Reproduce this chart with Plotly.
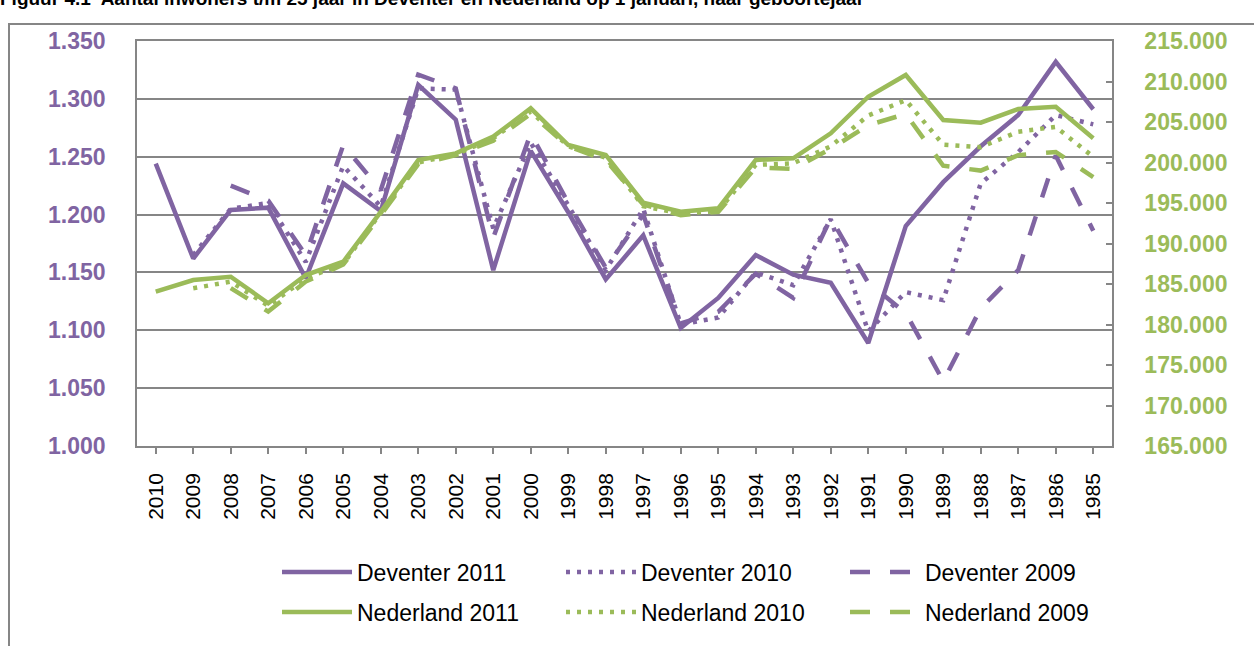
import plotly.graph_objects as go

years = ["2010", "2009", "2008", "2007", "2006", "2005", "2004", "2003", "2002", "2001",
         "2000", "1999", "1998", "1997", "1996", "1995", "1994", "1993", "1992", "1991",
         "1990", "1989", "1988", "1987", "1986", "1985"]

deventer_2011 = [1244, 1162, 1204, 1206, 1145, 1227, 1203, 1312, 1282, 1152,
                 1255, 1202, 1144, 1182, 1102, 1128, 1165, 1148, 1141, 1089,
                 1190, 1228, 1259, 1286, 1332, 1291]
deventer_2010 = [None, 1165, 1205, 1210, 1159, 1242, 1207, 1309, 1308, 1188,
                 1262, 1208, 1152, 1205, 1105, 1111, 1150, 1139, 1196, 1099,
                 1133, 1126, 1227, 1254, 1286, 1278]
deventer_2009 = [None, None, 1225, 1212, 1165, 1260, 1221, 1321, 1309, 1180,
                 1270, 1210, 1154, 1200, 1106, 1116, 1149, 1128, 1197, 1141,
                 1115, 1056, 1119, 1152, 1251, 1186]

nederland_2011 = [184050, 185490, 185900, 182620, 186110, 187750, 193900, 200300, 201130, 203190,
                  206690, 202160, 200930, 195040, 193930, 194350, 200310, 200520, 203600, 208120,
                  210800, 205250, 204910, 206600, 206890, 202990]
nederland_2010 = [None, 184470, 185300, 182300, 185700, 187500, 193800, 200000, 201000, 203000,
                  206300, 202000, 200600, 194600, 193700, 194000, 199700, 199900, 202000, 205800,
                  207700, 202200, 201900, 203800, 204400, 200700]
nederland_2009 = [None, None, 184500, 181600, 185300, 187400, 193500, 199800, 200900, 202700,
                  206000, 202000, 200300, 194800, 193500, 193900, 199400, 199200, 201700, 204600,
                  206000, 199600, 199000, 200900, 201300, 198200]

PURPLE = "#8064A2"
GREEN = "#9BBB59"
GRID = "#868686"
FONT = "Liberation Sans, Arial, sans-serif"

W = 4.5
DOT = "4px,7px"
DASH = "20px,20px"

fig = go.Figure()
series = [
    ("Deventer 2011", deventer_2011, PURPLE, "solid", "y", "legend"),
    ("Deventer 2010", deventer_2010, PURPLE, DOT, "y", "legend"),
    ("Deventer 2009", deventer_2009, PURPLE, DASH, "y", "legend"),
    ("Nederland 2011", nederland_2011, GREEN, "solid", "y2", "legend2"),
    ("Nederland 2010", nederland_2010, GREEN, DOT, "y2", "legend2"),
    ("Nederland 2009", nederland_2009, GREEN, DASH, "y2", "legend2"),
]
for name, vals, col, dash, ax, leg in series:
    fig.add_trace(go.Scatter(x=years, y=vals, name=name, mode="lines",
                             line=dict(color=col, width=W, dash=dash),
                             yaxis=ax, legend=leg, connectgaps=False))

# plot area in pixels: left 137, right 1112, top 41, bottom 446
L, R, T, B = 137, 1112, 41, 446
def px_x(p):
    return (p - L) / (R - L)
def px_y(p):
    return (B - p) / (B - T)

legend_common = dict(orientation="h", xanchor="left", yanchor="middle",
                     entrywidth=199, entrywidthmode="pixels",
                     font=dict(family=FONT, size=23, color="black"),
                     bgcolor="rgba(0,0,0,0)", itemwidth=70, traceorder="normal")

fig.update_layout(
    width=1254, height=646, autosize=False,
    margin=dict(l=L, r=1254 - R, t=T, b=646 - B, autoexpand=False),
    paper_bgcolor="white", plot_bgcolor="white",
    separators=",.",
    font=dict(family=FONT),
    showlegend=True,
    xaxis=dict(type="category", categoryorder="array", categoryarray=years,
               range=[-0.5, 25.5], showgrid=False, showline=True, linecolor=GRID,
               linewidth=1.5, mirror=True, ticks="outside", ticklen=6, tickwidth=1.5,
               tickcolor=GRID, tickangle=-90, ticklabelstandoff=11, automargin=False,
               tickfont=dict(family=FONT, size=21, color="black"), zeroline=False),
    yaxis=dict(range=[1000, 1350], tick0=1000, dtick=50, tickformat=",d",
               showgrid=True, gridcolor=GRID, gridwidth=1.5, showline=True,
               linecolor=GRID, linewidth=1.5, ticks="", zeroline=False,
               ticklabelstandoff=25, automargin=False,
               tickfont=dict(family=FONT, size=23, color=PURPLE, weight="bold")),
    yaxis2=dict(range=[165000, 215000], tick0=165000, dtick=5000, tickformat=",d",
                overlaying="y", side="right", showgrid=False, showline=True,
                linecolor=GRID, linewidth=1.5, ticks="inside", ticklen=6,
                tickwidth=1.5, tickcolor=GRID, zeroline=False, ticklabelstandoff=26,
                automargin=False,
                tickfont=dict(family=FONT, size=23, color=GREEN, weight="bold")),
    legend=dict(x=px_x(277), y=px_y(572), **legend_common),
    legend2=dict(x=px_x(277), y=px_y(612), **legend_common),
    shapes=[dict(type="rect", xref="paper", yref="paper", layer="below",
                 x0=px_x(9), x1=px_x(1275), y0=px_y(720), y1=px_y(24),
                 line=dict(color=GRID, width=2), fillcolor="rgba(0,0,0,0)")],
    annotations=[dict(text="Figuur 4.1  Aantal inwoners t/m 25 jaar in Deventer en Nederland op 1 januari, naar geboortejaar",
                      xref="paper", yref="paper", x=px_x(-2), y=px_y(11),
                      xanchor="left", yanchor="bottom", showarrow=False,
                      font=dict(family=FONT, size=19, color="black", weight="bold"))],
)

fig.write_html("out.html", config={"displayModeBar": False},
               post_script="document.body.style.margin='0';")
